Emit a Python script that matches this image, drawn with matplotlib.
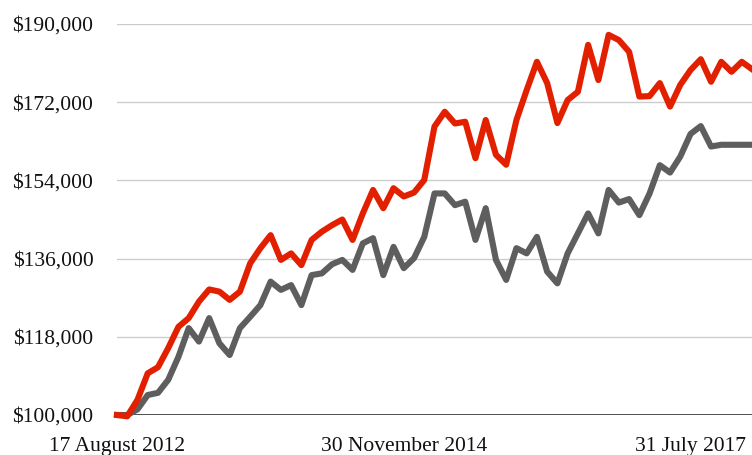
import matplotlib
matplotlib.use("Agg")
import matplotlib.pyplot as plt
from matplotlib.ticker import FuncFormatter

# Growth of a $100,000 investment, two portfolios (values in thousands of dollars)
portfolio_a = [100.0, 99.7, 103.5, 109.6, 111.0, 115.4, 120.3, 122.3, 126.1, 128.9,
               128.4, 126.5, 128.4, 134.9, 138.4, 141.4, 135.7, 137.2, 134.5, 140.3,
               142.2, 143.7, 145.0, 140.3, 146.4, 151.8, 147.6, 152.2, 150.3, 151.2,
               154.1, 166.4, 169.8, 167.1, 167.5, 159.1, 167.9, 159.9, 157.6, 167.9,
               174.8, 181.3, 176.4, 167.2, 172.5, 174.4, 185.2, 177.1, 187.5, 186.3,
               183.6, 173.3, 173.4, 176.4, 171.0, 176.0, 179.4, 181.9, 176.7, 181.3,
               179.0, 181.3, 179.6]
portfolio_b = [100.0, 100.0, 101.3, 104.6, 105.1, 108.1, 113.4, 120.0, 116.9, 122.3,
               116.5, 113.8, 120.0, 122.6, 125.3, 130.7, 128.8, 129.9, 125.3, 132.2,
               132.6, 134.7, 135.7, 133.4, 139.5, 140.7, 132.2, 138.7, 133.8, 136.1,
               141.0, 151.0, 151.0, 148.3, 149.1, 140.3, 147.6, 135.7, 131.1, 138.4,
               137.2, 141.0, 133.0, 130.3, 137.2, 141.8, 146.4, 141.8, 151.8, 148.9,
               149.7, 146.0, 151.0, 157.5, 155.8, 159.5, 164.7, 166.5, 161.8, 162.2,
               162.2, 162.2, 162.2]
date_labels = ["17 August 2012", "30 November 2014", "31 July 2017"]
y_ticks = [100000, 118000, 136000, 154000, 172000, 190000]

label_every = 28

plt.rcParams["font.family"] = ["Liberation Serif", "DejaVu Serif"]

fig = plt.figure(figsize=(7.52, 4.55), dpi=100)
ax = fig.add_axes([117 / 752, 40 / 455, 1 - 117 / 752, 391 / 455])

x = list(range(len(portfolio_a)))
a_vals = [v * 1000 for v in portfolio_a]
b_vals = [v * 1000 for v in portfolio_b]

ax.plot(x, b_vals, color="#5e5e5e", lw=4.4, solid_joinstyle="round",
        zorder=3, clip_on=False)
ax.plot(x, a_vals, color="#e22000", lw=4.4, solid_joinstyle="round",
        zorder=4, clip_on=False)

ax.set_xlim(0, len(x) - 1)
ax.set_ylim(y_ticks[0], y_ticks[-1])

ax.set_yticks(y_ticks)
ax.yaxis.set_major_formatter(FuncFormatter(lambda v, p: "${:,.0f}".format(v)))
ax.set_xticks(list(range(0, len(x), label_every)))
ax.set_xticklabels(date_labels)

ax.grid(axis="y", color="#cccccc", lw=1.0, zorder=0)
ax.axhline(y_ticks[0], color="#333333", lw=1.2, zorder=2)

for s in ax.spines.values():
    s.set_visible(False)

ax.tick_params(axis="y", length=0, pad=17, labelsize=15.5, labelcolor="#111111")
ax.tick_params(axis="x", length=0, pad=16, labelsize=15.5, labelcolor="#111111")

fig.savefig("out.png", dpi=100)
